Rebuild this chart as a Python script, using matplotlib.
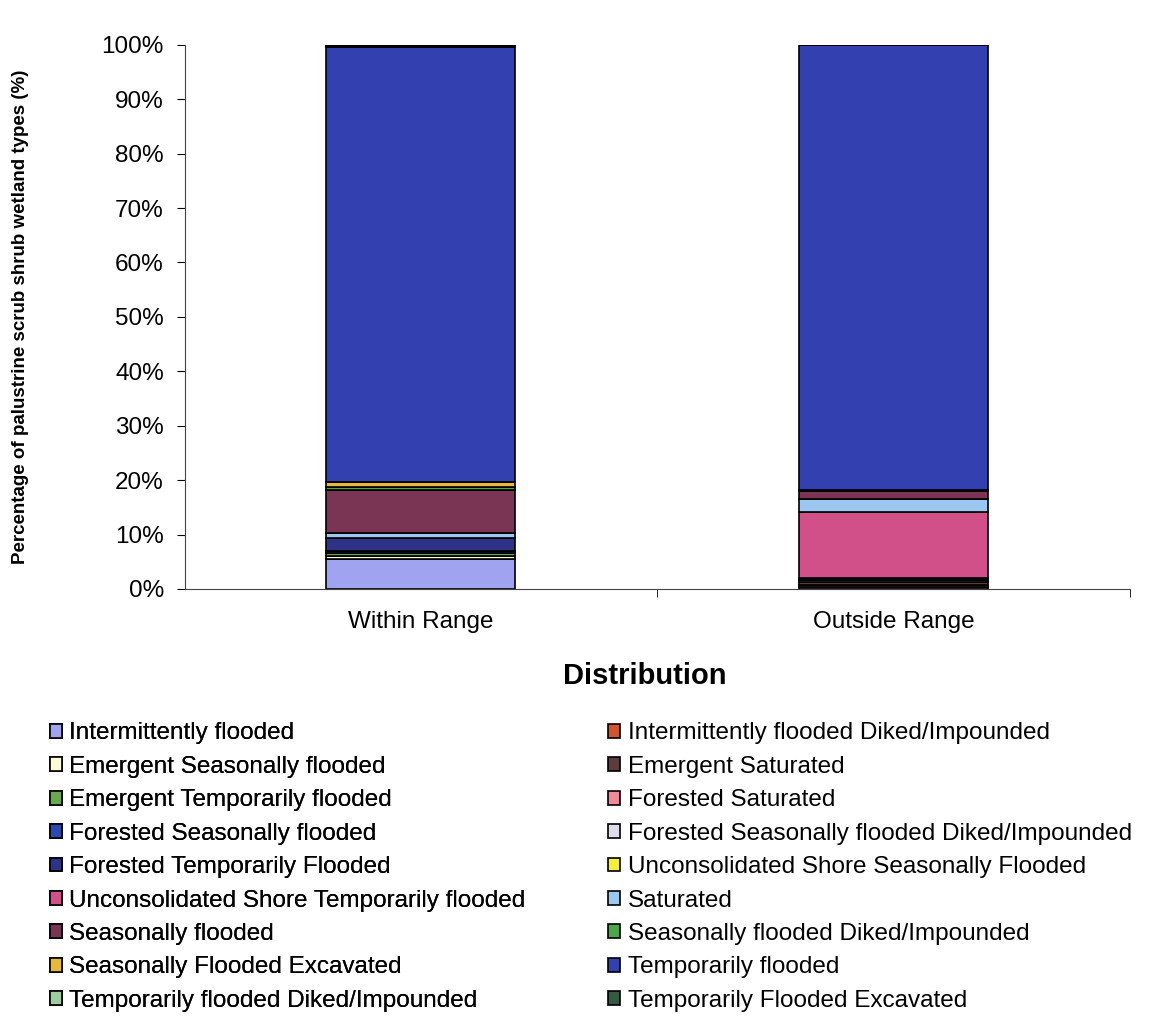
import numpy as np
import matplotlib.pyplot as plt
from matplotlib.ticker import PercentFormatter

plt.rcParams['font.family'] = ['Liberation Sans', 'DejaVu Sans']

# categories on the x axis
ranges = ["Within Range", "Outside Range"]

# wetland types in legend order (Excel reads the legend across the rows)
types = [
    "Intermittently flooded",
    "Intermittently flooded Diked/Impounded",
    "Emergent Seasonally flooded",
    "Emergent Saturated",
    "Emergent Temporarily flooded",
    "Forested Saturated",
    "Forested Seasonally flooded",
    "Forested Seasonally flooded Diked/Impounded",
    "Forested Temporarily Flooded",
    "Unconsolidated Shore Seasonally Flooded",
    "Unconsolidated Shore Temporarily flooded",
    "Saturated",
    "Seasonally flooded",
    "Seasonally flooded Diked/Impounded",
    "Seasonally Flooded Excavated",
    "Temporarily flooded",
    "Temporarily flooded Diked/Impounded",
    "Temporarily Flooded Excavated",
]

# percentages, same order as types
within = [5.6, 0.0, 0.4, 0.0, 0.6, 0.0, 0.3, 0.0, 2.4, 0.0, 0.0, 1.0,
          7.9, 0.6, 0.9, 79.9, 0.2, 0.2]
outside = [0.3, 0.4, 0.0, 0.6, 0.3, 0.0, 0.0, 0.0, 0.4, 0.0, 12.2, 2.3,
           1.5, 0.2, 0.0, 81.8, 0.0, 0.0]

colors = ["#9fa3f0", "#d0552e", "#fbfbd6", "#5e3b3d", "#6aa84f", "#f08a98",
          "#2a4ab0", "#dcdcea", "#2e3388", "#f4f03a", "#d2508a", "#9cc8f0",
          "#7a3454", "#4ea64a", "#e8b83a", "#3340b0", "#9fcca0", "#345a40"]

fig = plt.figure(figsize=(11.54, 10.19), dpi=100)
ax = fig.add_axes([0.160, 0.422, 0.819, 0.534])

x = np.arange(len(ranges))
bottom = np.zeros(len(ranges))
handles = []
for name, a, b, c in zip(types, within, outside, colors):
    vals = np.array([a, b])
    h = ax.bar(x, vals, width=0.4, bottom=bottom, color=c,
               edgecolor="black", linewidth=1.2, label=name)
    handles.append(h)
    bottom += vals

ax.set_xlim(-0.5, 1.5)
ax.set_ylim(0, 100)
ax.set_yticks(np.arange(0, 101, 10))
ax.yaxis.set_major_formatter(PercentFormatter(decimals=0))
ax.set_xticks(x)
ax.set_xticklabels(ranges)
ax.set_xticks([0.5, 1.5], minor=True)
ax.tick_params(axis="x", which="major", length=0, pad=16, labelsize=17.5)
ax.tick_params(axis="x", which="minor", length=6, direction="out")
ax.tick_params(axis="y", length=6, pad=9, direction="out", labelsize=17.5)
ax.spines["top"].set_visible(False)
ax.spines["right"].set_visible(False)
ax.spines["left"].set_color("#444444")
ax.spines["bottom"].set_color("#444444")

ax.set_ylabel("Percentage of palustrine scrub shrub wetland types (%)",
              fontsize=13.5, fontweight="bold", labelpad=52)
ax.set_xlabel("Distribution", fontsize=21, fontweight="bold", labelpad=18)
ax.xaxis.set_label_coords(0.487, -0.135)

# two legends, one per column, rows read across like the original
leg_kw = dict(loc="upper left", frameon=False, fontsize=17.5,
              handlelength=0.5, handleheight=0.5, handletextpad=0.3,
              labelspacing=0.47, borderpad=0, borderaxespad=0)
left = fig.legend(handles[0::2], types[0::2],
                  bbox_to_anchor=(0.043, 0.291), **leg_kw)
fig.add_artist(left)
fig.legend(handles[1::2], types[1::2],
           bbox_to_anchor=(0.527, 0.291), **leg_kw)

fig.savefig("out.png", dpi=100)
